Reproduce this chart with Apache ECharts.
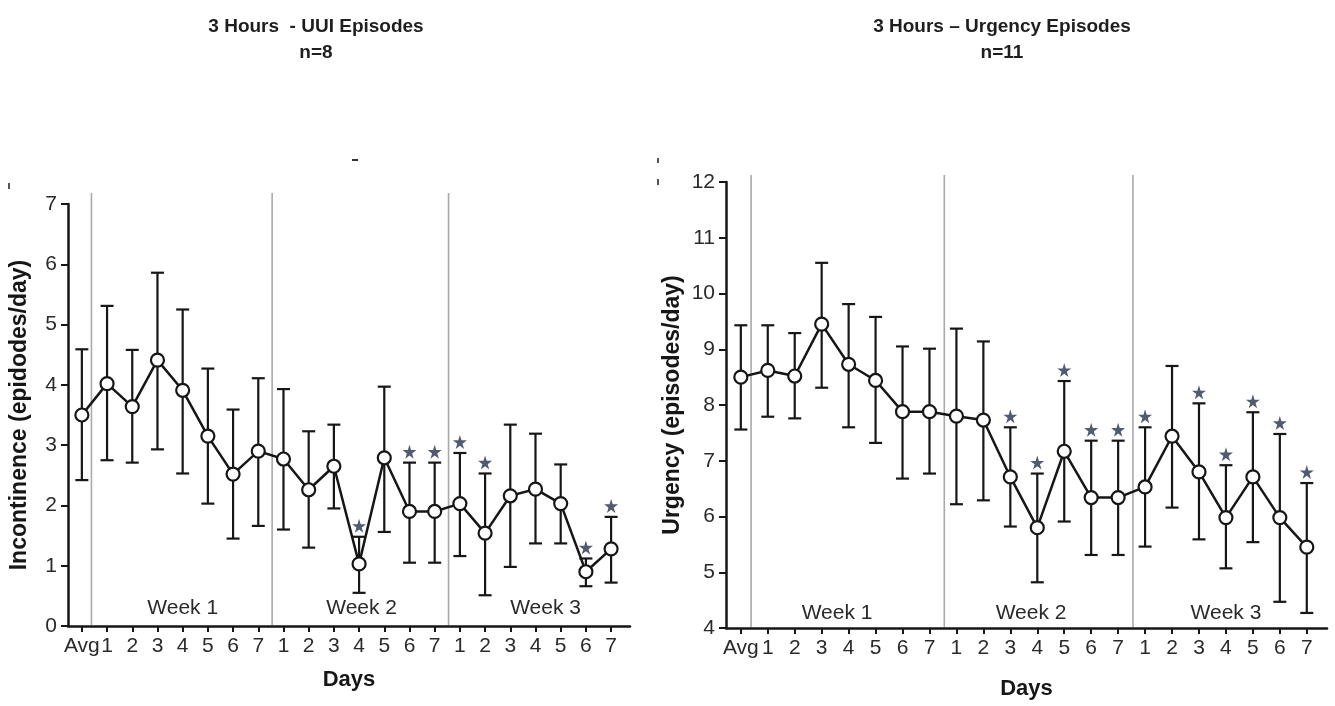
<!DOCTYPE html>
<html>
<head>
<meta charset="utf-8">
<script src="https://cdn.jsdelivr.net/npm/echarts@6/dist/echarts.min.js"></script>
<style>
html,body{margin:0;padding:0;background:#fff;}
#chart{width:1335px;height:706px;}
</style>
</head>
<body>
<div id="chart"></div>
<script>
// ---------- data ----------
const dayLabels = ['Avg','1','2','3','4','5','6','7','1','2','3','4','5','6','7','1','2','3','4','5','6','7'];
const weekLabels = ['Week 1','Week 2','Week 3'];
const weekBreaks = [0.38, 7.55, 14.55];

const uuiMean  = [3.50, 4.02, 3.64, 4.41, 3.91, 3.15, 2.52, 2.90, 2.77, 2.26, 2.65, 1.03, 2.79, 1.90, 1.90, 2.03, 1.54, 2.16, 2.27, 2.03, 0.90, 1.28];
const uuiUpper = [4.59, 5.31, 4.58, 5.86, 5.25, 4.27, 3.59, 4.11, 3.93, 3.23, 3.34, 1.48, 3.97, 2.71, 2.71, 2.87, 2.53, 3.34, 3.19, 2.68, 1.12, 1.81];
const uuiLower = [2.42, 2.75, 2.71, 2.93, 2.53, 2.03, 1.45, 1.66, 1.60, 1.30, 1.95, 0.55, 1.56, 1.05, 1.05, 1.16, 0.51, 0.98, 1.37, 1.37, 0.66, 0.72];
const uuiStars = [11, 13, 14, 15, 16, 20, 21];

const urgMean  = [8.50, 8.62, 8.52, 9.45, 8.73, 8.44, 7.88, 7.88, 7.80, 7.73, 6.71, 5.80, 7.17, 6.34, 6.34, 6.53, 7.44, 6.80, 5.98, 6.71, 5.98, 5.45];
const urgUpper = [9.43, 9.43, 9.29, 10.55, 9.81, 9.58, 9.05, 9.01, 9.37, 9.14, 7.60, 6.77, 8.43, 7.36, 7.36, 7.60, 8.70, 8.03, 6.92, 7.87, 7.48, 6.60];
const urgLower = [7.56, 7.79, 7.76, 8.31, 7.60, 7.32, 6.68, 6.77, 6.22, 6.29, 5.82, 4.82, 5.91, 5.31, 5.31, 5.46, 6.16, 5.59, 5.07, 5.54, 4.47, 4.27];
const urgStars = [10, 11, 12, 13, 14, 15, 17, 18, 19, 20, 21];

const uuiRange = [0, 7];
const urgRange = [4, 12];

// ---------- chart ----------
const FONT = '"Liberation Sans", Arial, sans-serif';
const INK = '#161616';
const idx = dayLabels.map((_, i) => i);
const starPath = 'path://M50,0 L61,35 L98,35 L68,57 L79,91 L50,70 L21,91 L32,57 L2,35 L39,35 Z';

function xAxisFor(gridIndex) {
  return {
    type: 'value', gridIndex, min: -0.55, max: 21.75,
    axisLine: {show: true, onZero: false, lineStyle: {color: INK, width: 2.5}},
    axisTick: {show: true, customValues: idx, length: 6, lineStyle: {color: INK, width: 2}},
    axisLabel: {show: true, customValues: idx, formatter: v => dayLabels[Math.round(v)],
      color: '#2a2a2a', fontSize: 21, fontFamily: FONT, margin: 10},
    splitLine: {show: false},
    name: 'Days', nameLocation: 'middle', nameGap: gridIndex === 0 ? 43 : 50,
    nameTextStyle: {color: INK, fontWeight: 'bold', fontSize: 22, fontFamily: FONT}
  };
}
function yAxisFor(gridIndex, range, name, gap) {
  return {
    type: 'value', gridIndex, min: range[0], max: range[1], interval: 1,
    axisLine: {show: true, onZero: false, lineStyle: {color: INK, width: 2.5}},
    axisTick: {show: true, length: 7, lineStyle: {color: INK, width: 2}},
    axisLabel: {color: '#2a2a2a', fontSize: 21, fontFamily: FONT, margin: 11},
    splitLine: {show: false},
    name, nameLocation: 'middle', nameGap: gap, nameRotate: 90,
    nameTextStyle: {color: INK, fontWeight: 'bold', fontSize: 23, fontFamily: FONT}
  };
}

function seriesFor(k, mean, upper, lower, stars, range, weekPos, weekY, sepAbove) {
  return [
    { // week separators
      type: 'custom', xAxisIndex: k, yAxisIndex: k, z: 1, silent: true,
      data: weekBreaks.map(x => [x]),
      renderItem: (params, api) => {
        const x = api.value(0);
        const top = api.coord([x, range[1]]);
        const bot = api.coord([x, range[0]]);
        return {type: 'line', shape: {x1: top[0], y1: top[1] - sepAbove, x2: bot[0], y2: bot[1] - 1},
          style: {stroke: '#a9a9a9', lineWidth: 1.6}};
      }
    },
    { // week labels
      type: 'custom', xAxisIndex: k, yAxisIndex: k, z: 1, silent: true,
      data: weekLabels.map((w, i) => [weekPos[i], weekY, i]),
      renderItem: (params, api) => {
        const p = api.coord([api.value(0), api.value(1)]);
        return {type: 'text', x: p[0], y: p[1],
          style: {text: weekLabels[api.value(2)], fill: '#2a2a2a', font: '21px ' + FONT,
            align: 'center', verticalAlign: 'middle'}};
      }
    },
    { // error bars
      type: 'custom', xAxisIndex: k, yAxisIndex: k, z: 2, silent: true,
      data: mean.map((m, i) => [i, upper[i], lower[i]]),
      renderItem: (params, api) => {
        const hi = api.coord([api.value(0), api.value(1)]);
        const lo = api.coord([api.value(0), api.value(2)]);
        const cw = 6.5;
        const st = {stroke: INK, lineWidth: 2.2};
        return {type: 'group', children: [
          {type: 'line', shape: {x1: hi[0], y1: hi[1], x2: lo[0], y2: lo[1]}, style: st},
          {type: 'line', shape: {x1: hi[0] - cw, y1: hi[1], x2: hi[0] + cw, y2: hi[1]}, style: st},
          {type: 'line', shape: {x1: lo[0] - cw, y1: lo[1], x2: lo[0] + cw, y2: lo[1]}, style: st}
        ]};
      }
    },
    { // means
      type: 'line', xAxisIndex: k, yAxisIndex: k, z: 3,
      data: mean.map((m, i) => [i, m]),
      symbol: 'circle', symbolSize: 13,
      itemStyle: {color: '#fff', borderColor: INK, borderWidth: 2.2},
      lineStyle: {color: INK, width: 2.5}
    },
    { // significance stars
      type: 'scatter', xAxisIndex: k, yAxisIndex: k, z: 4,
      data: stars.map(i => [i, upper[i]]),
      symbol: starPath, symbolSize: 14, symbolOffset: [0, -11],
      itemStyle: {color: '#24314d'}
    }
  ];
}

const chart = echarts.init(document.getElementById('chart'), null, {renderer: 'canvas'});
chart.setOption({
  animation: false,
  backgroundColor: '#fff',
  title: [
    {text: '3 Hours  - UUI Episodes\nn=8', left: 311, top: 9, textAlign: 'center',
      textStyle: {fontSize: 19, fontWeight: 'bold', fontFamily: FONT, color: '#1e1e1e', lineHeight: 26}},
    {text: '3 Hours \u2013 Urgency Episodes\nn=11', left: 997, top: 9, textAlign: 'center',
      textStyle: {fontSize: 19, fontWeight: 'bold', fontFamily: FONT, color: '#1e1e1e', lineHeight: 26}}
  ],
  grid: [
    {left: 68, right: 705, top: 204, bottom: 80, containLabel: false},
    {left: 726, right: 8, top: 182, bottom: 78, containLabel: false}
  ],
  xAxis: [xAxisFor(0), xAxisFor(1)],
  yAxis: [
    yAxisFor(0, uuiRange, 'Incontinence (epidodes/day)', 37),
    yAxisFor(1, urgRange, 'Urgency (episodes/day)', 42)
  ],
  series: [
    ...seriesFor(0, uuiMean, uuiUpper, uuiLower, uuiStars, uuiRange, [4.0, 11.1, 18.4], 0.30, 11),
    ...seriesFor(1, urgMean, urgUpper, urgLower, urgStars, urgRange, [3.57, 10.77, 18.0], 4.27, 7)
  ],
  graphic: [
    {type: 'rect', shape: {x: 352, y: 159, width: 6, height: 2}, style: {fill: '#333'}},
    {type: 'rect', shape: {x: 8, y: 183, width: 2, height: 6}, style: {fill: '#555'}},
    {type: 'rect', shape: {x: 657, y: 158, width: 2, height: 5}, style: {fill: '#555'}},
    {type: 'rect', shape: {x: 657, y: 179, width: 2, height: 6}, style: {fill: '#555'}}
  ]
});
</script>
</body>
</html>
